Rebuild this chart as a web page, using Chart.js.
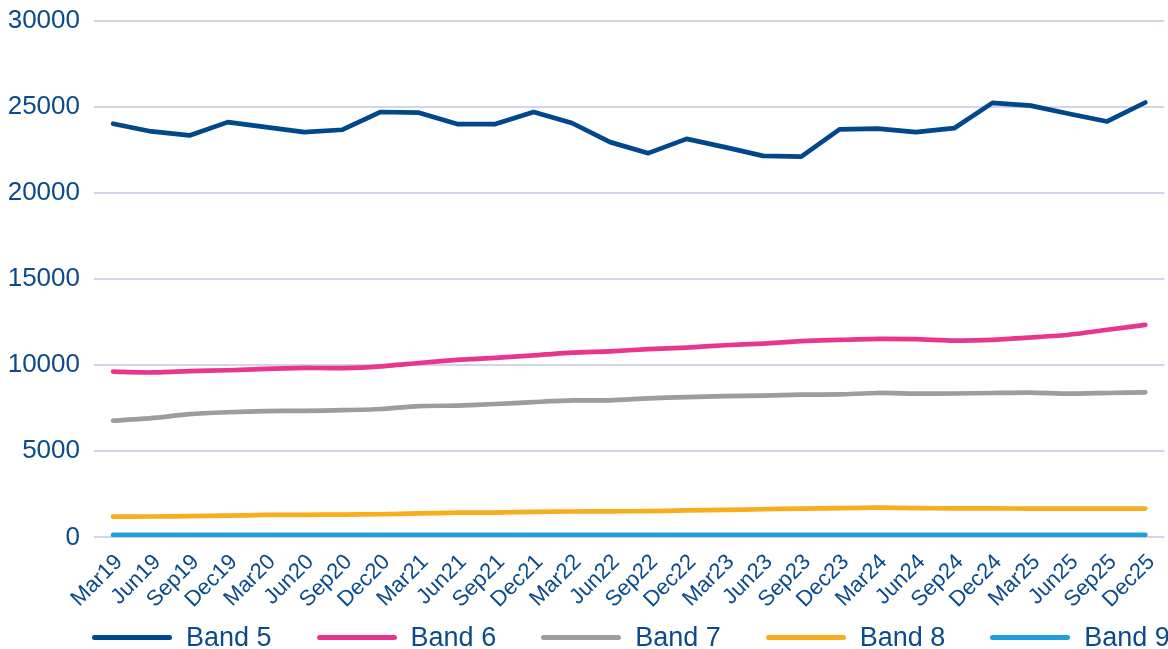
<!DOCTYPE html>
<html>
<head>
<meta charset="utf-8">
<script src="https://cdn.jsdelivr.net/npm/chart.js@4"></script>
<style>
  html, body { margin: 0; padding: 0; background: #fff; }
  #wrap { position: relative; width: 1168px; height: 649px; }
  #legend {
    position: absolute; left: 92px; top: 622px;
    display: flex; align-items: center; gap: 45px;
    font-family: "Liberation Sans", Arial, sans-serif; font-size: 27px; color: #0b4a8c;
    white-space: nowrap;
  }
  #legend .item { display: flex; align-items: center; height: 30px; }
  #legend .swatch { width: 80px; height: 5px; border-radius: 3px; margin-right: 14px; }
</style>
</head>
<body>
<div id="wrap">
  <canvas id="bands-chart"></canvas>
  <div id="legend"></div>
</div>
<script>
var quarters = ['Mar19', 'Jun19', 'Sep19', 'Dec19', 'Mar20', 'Jun20', 'Sep20', 'Dec20',
  'Mar21', 'Jun21', 'Sep21', 'Dec21', 'Mar22', 'Jun22', 'Sep22', 'Dec22',
  'Mar23', 'Jun23', 'Sep23', 'Dec23', 'Mar24', 'Jun24', 'Sep24', 'Dec24',
  'Mar25', 'Jun25', 'Sep25', 'Dec25'];

var band5 = [24010, 23560, 23330, 24100, 23810, 23520, 23660, 24690,
  24650, 23990, 23990, 24690, 24050, 22940, 22300, 23130,
  22650, 22140, 22100, 23680, 23720, 23520, 23750, 25220,
  25060, 24590, 24140, 25240];
var band6 = [9620, 9570, 9650, 9700, 9780, 9840, 9820, 9920,
  10120, 10300, 10420, 10560, 10720, 10800, 10920, 11010,
  11150, 11250, 11390, 11460, 11520, 11500, 11420, 11460,
  11600, 11760, 12050, 12330];
var band7 = [6770, 6920, 7150, 7260, 7330, 7340, 7380, 7450,
  7620, 7650, 7740, 7850, 7950, 7950, 8070, 8140,
  8200, 8230, 8280, 8300, 8380, 8340, 8350, 8380,
  8400, 8340, 8380, 8420];
var band8 = [1200, 1210, 1230, 1260, 1300, 1310, 1320, 1340,
  1390, 1430, 1440, 1480, 1500, 1510, 1520, 1560,
  1600, 1630, 1670, 1700, 1720, 1700, 1680, 1680,
  1670, 1670, 1670, 1670];
var band9 = [140, 140, 140, 140, 140, 140, 140, 140,
  140, 140, 140, 140, 140, 140, 140, 140,
  140, 140, 140, 140, 140, 140, 140, 140,
  140, 140, 140, 140];

var yTicks = [0, 5000, 10000, 15000, 20000, 25000, 30000];

var navy = '#0b4a8c';
var font = '"Liberation Sans", Arial, sans-serif';

function line(label, data, color, tension) {
  return {
    label: label,
    data: data,
    borderColor: color,
    backgroundColor: color,
    borderWidth: 4.7,
    borderCapStyle: 'round',
    borderJoinStyle: 'round',
    pointRadius: 0,
    tension: tension,
    fill: false
  };
}

var ctx = document.getElementById('bands-chart').getContext('2d');
var chart = new Chart(ctx, {
  type: 'line',
  data: {
    labels: quarters,
    datasets: [
      line('Band 5', band5, '#00478c', 0),
      line('Band 6', band6, '#e8368f', 0.2),
      line('Band 7', band7, '#9d9d9c', 0.2),
      line('Band 8', band8, '#f8ad1c', 0.2),
      line('Band 9', band9, '#1e9fdb', 0.2)
    ]
  },
  options: {
    responsive: true,
    maintainAspectRatio: false,
    animation: false,
    layout: { padding: { left: 8, right: 0, top: 0, bottom: 32 } },
    scales: {
      x: {
        offset: true,
        grid: { display: false },
        border: { display: false },
        ticks: {
          autoSkip: false,
          minRotation: 45,
          maxRotation: 45,
          padding: 4,
          labelOffset: 6,
          color: navy,
          font: { family: font, size: 22 }
        }
      },
      y: {
        min: yTicks[0],
        max: yTicks[yTicks.length - 1],
        afterBuildTicks: function (axis) {
          axis.ticks = yTicks.map(function (v) { return { value: v }; });
        },
        // labels are 5 digits wide; keep the plot starting right after them
        afterFit: function (axis) { axis.width = 86; },
        grid: { color: '#d3d6ea', lineWidth: 2, drawTicks: false },
        border: { display: false },
        ticks: {
          padding: 14,
          color: navy,
          font: { family: font, size: 26, lineHeight: 0.5 },
          callback: function (v) { return String(v); }
        }
      }
    },
    plugins: {
      legend: { display: false },
      tooltip: { enabled: false }
    }
  }
});

// legend row under the chart, built from the datasets
var legendEl = document.getElementById('legend');
chart.data.datasets.forEach(function (ds) {
  var item = document.createElement('div');
  item.className = 'item';
  var sw = document.createElement('span');
  sw.className = 'swatch';
  sw.style.background = ds.borderColor;
  var txt = document.createElement('span');
  txt.textContent = ds.label;
  item.appendChild(sw);
  item.appendChild(txt);
  legendEl.appendChild(item);
});
</script>
</body>
</html>
